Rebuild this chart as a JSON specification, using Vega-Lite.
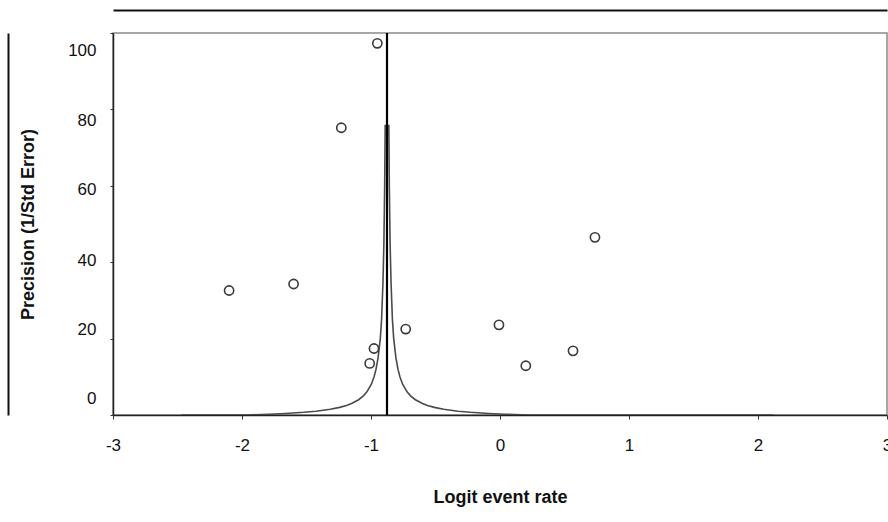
{
  "$schema": "https://vega.github.io/schema/vega-lite/v6.json",
  "width": 774,
  "height": 382,
  "autosize": {"type": "none"},
  "padding": {"left": 113, "top": 33, "right": 1, "bottom": 107},
  "background": "white",
  "config": {
    "font": "Liberation Sans",
    "view": {"stroke": "#8a8a8a", "strokeWidth": 1.5},
    "axis": {"grid": false, "labelFont": "Liberation Sans", "titleFont": "Liberation Sans", "labelColor": "#111", "titleColor": "#111"}
  },
  "datasets": {
    "studies": [
      {"logit": -2.10, "precision": 32.6},
      {"logit": -1.60, "precision": 34.3},
      {"logit": -1.23, "precision": 75.2},
      {"logit": -0.951, "precision": 97.3},
      {"logit": -0.977, "precision": 17.4},
      {"logit": -1.01, "precision": 13.5},
      {"logit": -0.731, "precision": 22.5},
      {"logit": -0.008, "precision": 23.6},
      {"logit": 0.20, "precision": 12.9},
      {"logit": 0.566, "precision": 16.8},
      {"logit": 0.736, "precision": 46.5}
    ],
    "funnel": [
      {"side": "left", "logit": -2.47, "precision": 0},
      {"side": "left", "logit": -1.976, "precision": 0.0},
      {"side": "left", "logit": -1.924, "precision": 0.05},
      {"side": "left", "logit": -1.793, "precision": 0.2},
      {"side": "left", "logit": -1.662, "precision": 0.4},
      {"side": "left", "logit": -1.523, "precision": 0.7},
      {"side": "left", "logit": -1.426, "precision": 1},
      {"side": "left", "logit": -1.316, "precision": 1.5},
      {"side": "left", "logit": -1.243, "precision": 2},
      {"side": "left", "logit": -1.190, "precision": 2.5},
      {"side": "left", "logit": -1.151, "precision": 3},
      {"side": "left", "logit": -1.096, "precision": 4},
      {"side": "left", "logit": -1.059, "precision": 5},
      {"side": "left", "logit": -1.033, "precision": 6},
      {"side": "left", "logit": -0.998, "precision": 8},
      {"side": "left", "logit": -0.976, "precision": 10},
      {"side": "left", "logit": -0.961, "precision": 12},
      {"side": "left", "logit": -0.945, "precision": 15},
      {"side": "left", "logit": -0.928, "precision": 20},
      {"side": "left", "logit": -0.918, "precision": 25},
      {"side": "left", "logit": -0.907, "precision": 35},
      {"side": "left", "logit": -0.900, "precision": 45},
      {"side": "left", "logit": -0.894, "precision": 60},
      {"side": "left", "logit": -0.890, "precision": 76},
      {"side": "right", "logit": 2.12, "precision": 0},
      {"side": "right", "logit": 0.224, "precision": 0.0},
      {"side": "right", "logit": 0.172, "precision": 0.05},
      {"side": "right", "logit": 0.041, "precision": 0.2},
      {"side": "right", "logit": -0.090, "precision": 0.4},
      {"side": "right", "logit": -0.229, "precision": 0.7},
      {"side": "right", "logit": -0.326, "precision": 1},
      {"side": "right", "logit": -0.436, "precision": 1.5},
      {"side": "right", "logit": -0.509, "precision": 2},
      {"side": "right", "logit": -0.562, "precision": 2.5},
      {"side": "right", "logit": -0.601, "precision": 3},
      {"side": "right", "logit": -0.656, "precision": 4},
      {"side": "right", "logit": -0.693, "precision": 5},
      {"side": "right", "logit": -0.719, "precision": 6},
      {"side": "right", "logit": -0.754, "precision": 8},
      {"side": "right", "logit": -0.776, "precision": 10},
      {"side": "right", "logit": -0.791, "precision": 12},
      {"side": "right", "logit": -0.807, "precision": 15},
      {"side": "right", "logit": -0.824, "precision": 20},
      {"side": "right", "logit": -0.834, "precision": 25},
      {"side": "right", "logit": -0.845, "precision": 35},
      {"side": "right", "logit": -0.852, "precision": 45},
      {"side": "right", "logit": -0.858, "precision": 60},
      {"side": "right", "logit": -0.862, "precision": 76}
    ],
    "summary": [
      {"logit": -0.876}
    ]
  },
  "resolve": {"axis": {"x": "independent", "y": "independent"}},
  "layer": [
    {
      "data": {"name": "funnel"},
      "mark": {"type": "line", "color": "#4a4a4a", "strokeWidth": 1.6, "clip": true},
      "encoding": {
        "x": {
          "field": "logit", "type": "quantitative",
          "scale": {"domain": [-3, 3], "nice": false, "zero": false},
          "axis": {
            "orient": "bottom",
            "title": "Logit event rate",
            "values": [-3, -2, -1, 0, 1, 2, 3],
            "labelExpr": "'' + datum.value",
            "labelFontSize": 17,
            "titleFontSize": 18,
            "titleFontWeight": "bold",
            "domainColor": "#222",
            "domainWidth": 1.5,
            "tickColor": "#333",
            "tickSize": 4,
            "labelPadding": 18,
            "labelFlush": false,
            "titleBaseline": "middle",
            "titleY": 82
          }
        },
        "y": {
          "field": "precision", "type": "quantitative",
          "scale": {"domain": [0, 100], "nice": false},
          "axis": {
            "orient": "left",
            "title": "Precision (1/Std Error)",
            "values": [0, 20, 40, 60, 80, 100],
            "labelFontSize": 17,
            "titleFontSize": 18,
            "titleFontWeight": "bold",
            "domainColor": "#222",
            "domainWidth": 1.5,
            "tickColor": "#333",
            "tickSize": 3,
            "labelPadding": 14,
            "labelFlush": false,
            "labelOffset": {
              "condition": [
                {"test": "datum.value == 100", "value": 17},
                {"test": "datum.value == 80", "value": 11},
                {"test": "datum.value == 60", "value": 4},
                {"test": "datum.value == 40", "value": -2},
                {"test": "datum.value == 20", "value": -9}
              ],
              "value": -17
            },
            "titleBaseline": "middle",
            "titleX": -85
          }
        },
        "detail": {"field": "side", "type": "nominal"},
        "order": {"field": "precision", "type": "quantitative"}
      }
    },
    {
      "data": {"name": "summary"},
      "mark": {"type": "rule", "color": "#000000", "strokeWidth": 2.2},
      "encoding": {
        "x": {"field": "logit", "type": "quantitative", "axis": null}
      }
    },
    {
      "data": {"name": "studies"},
      "mark": {"type": "point", "shape": "circle", "filled": false, "size": 85, "stroke": "#3a3a3a", "strokeWidth": 1.6, "opacity": 1},
      "encoding": {
        "x": {
          "field": "logit", "type": "quantitative",
          "axis": {"orient": "top", "offset": 23, "title": null, "labels": false, "ticks": false, "domainColor": "#111", "domainWidth": 2}
        },
        "y": {
          "field": "precision", "type": "quantitative",
          "axis": {"orient": "left", "offset": 105, "title": null, "labels": false, "ticks": false, "domainColor": "#111", "domainWidth": 2}
        }
      }
    }
  ]
}
